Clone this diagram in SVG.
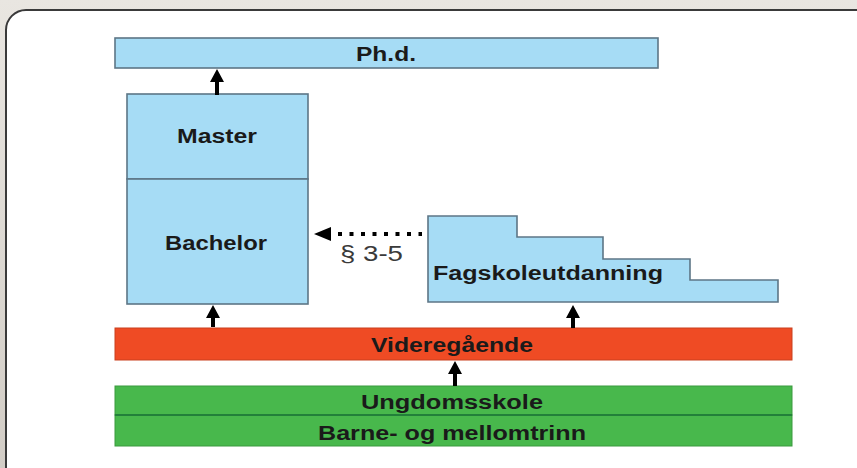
<svg xmlns="http://www.w3.org/2000/svg" width="857" height="468" viewBox="0 0 857 468">
<defs>
<linearGradient id="bg" x1="0" y1="0" x2="0" y2="1">
<stop offset="0" stop-color="#e9e6e1"/>
<stop offset="1" stop-color="#d2cdc6"/>
</linearGradient>
<style>
.blue{fill:#a6dcf5;stroke:#5d7686;stroke-width:1.6}
.red{fill:#ef4b24;stroke:#c9401f;stroke-width:1}
.green{fill:#48b84c;stroke:#3a9a3e;stroke-width:1}
.t{font-family:"Liberation Sans",Arial,sans-serif;font-weight:bold;font-size:20px;fill:#1a1a1a}
.n{font-family:"Liberation Sans",Arial,sans-serif;font-size:22px;fill:#3a3a3a}
.arr{fill:#000}
</style>
</defs>
<rect x="0" y="0" width="857" height="468" fill="url(#bg)"/>
<rect x="6" y="10" width="900" height="500" rx="20" fill="#ffffff" stroke="#3a3a3a" stroke-width="2"/>

<g id="phd">
<rect class="blue" x="115" y="38" width="543" height="30"/>
<text class="t" x="386" y="61" text-anchor="middle" textLength="60" lengthAdjust="spacingAndGlyphs">Ph.d.</text>
</g>
<g id="master">
<rect class="blue" x="127" y="94" width="181" height="85"/>
<text class="t" x="217" y="143" text-anchor="middle" textLength="80" lengthAdjust="spacingAndGlyphs">Master</text>
</g>
<g id="bachelor">
<rect class="blue" x="127" y="179" width="181" height="125"/>
<text class="t" x="216" y="250" text-anchor="middle" textLength="102" lengthAdjust="spacingAndGlyphs">Bachelor</text>
</g>
<g id="fagskole">
<path class="blue" d="M428,216 H517 V237 H603 V259 H690 V280 H778 V302 H428 Z"/>
<text class="t" x="433" y="280" textLength="230" lengthAdjust="spacingAndGlyphs">Fagskoleutdanning</text>
</g>
<g id="videregaende">
<rect class="red" x="115" y="328" width="677" height="32"/>
<text class="t" x="452" y="352" text-anchor="middle" textLength="162" lengthAdjust="spacingAndGlyphs">Videregående</text>
</g>
<g id="ungdomsskole">
<rect class="green" x="115" y="386" width="677" height="29"/>
<text class="t" x="452" y="409" text-anchor="middle" textLength="182" lengthAdjust="spacingAndGlyphs">Ungdomsskole</text>
</g>
<g id="barne">
<rect class="green" x="115" y="415" width="677" height="31"/>
<line x1="115" y1="415" x2="792" y2="415" stroke="#22803a" stroke-width="2"/>
<text class="t" x="452" y="440" text-anchor="middle" textLength="268" lengthAdjust="spacingAndGlyphs">Barne- og mellomtrinn</text>
</g>

<g id="connectors">
<path class="arr" d="M215,95 V82 H210 L217,69 L224,82 H219 V95 Z"/>
<path class="arr" d="M211,327 V318 H206 L213,305 L220,318 H215 V327 Z"/>
<path class="arr" d="M571,328 V318 H566 L573,305 L580,318 H575 V328 Z"/>
<path class="arr" d="M453,386 V374 H448 L455,361 L462,374 H457 V386 Z"/>
<line x1="338" y1="234" x2="422" y2="234" stroke="#000" stroke-width="4" stroke-dasharray="4,7.5"/>
<path class="arr" d="M314,234 L331,227 V241 Z"/>
<text class="n" x="340" y="261" textLength="63" lengthAdjust="spacingAndGlyphs">§ 3-5</text>
</g>
</svg>
